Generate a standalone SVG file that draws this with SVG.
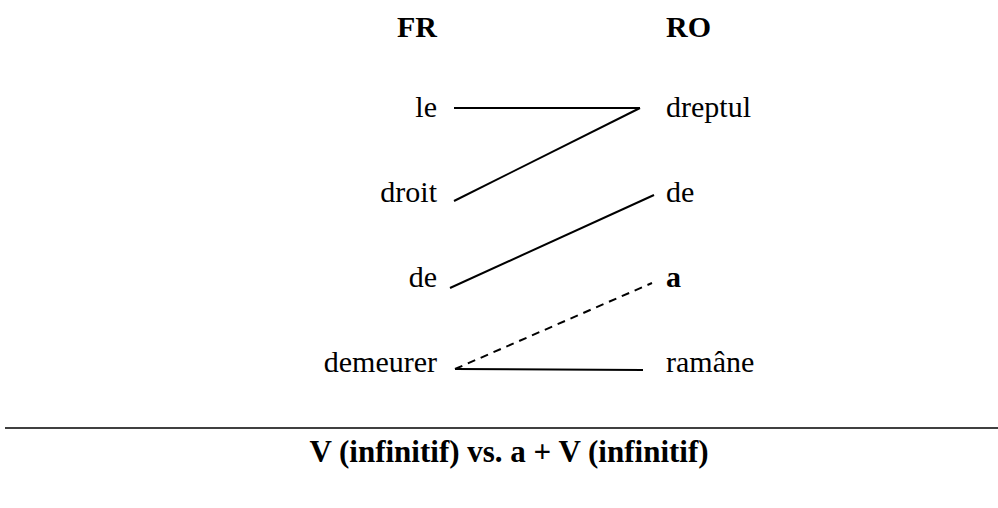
<svg xmlns="http://www.w3.org/2000/svg" width="998" height="508" viewBox="0 0 998 508">
<style>
text{font-family:"Liberation Serif","Times New Roman",serif;font-size:30px;fill:#000}
.b{font-weight:bold}
.l{text-anchor:end}
.r{text-anchor:start}
.t{font-size:31px;text-anchor:middle}
.c{stroke:#000;stroke-width:2;fill:none}
.d{stroke-dasharray:8,6}
</style>
<rect width="998" height="508" fill="#fff"/>
<g id="hdr-fr"><text class="b l" x="437" y="37">FR</text></g>
<g id="hdr-ro"><text class="b r" x="666" y="37">RO</text></g>
<g id="fr-le"><text class="l" x="437" y="117">le</text></g>
<g id="fr-droit"><text class="l" x="437" y="202">droit</text></g>
<g id="fr-de"><text class="l" x="437" y="287">de</text></g>
<g id="fr-demeurer"><text class="l" x="437" y="372">demeurer</text></g>
<g id="ro-dreptul"><text class="r" x="666" y="117">dreptul</text></g>
<g id="ro-de"><text class="r" x="666" y="202">de</text></g>
<g id="ro-a"><text class="b r" x="666" y="287">a</text></g>
<g id="ro-ramane"><text class="r" x="666" y="372">ramâne</text></g>
<g id="connectors">
<line class="c" x1="454" y1="108" x2="640" y2="108"/>
<line class="c" x1="454" y1="201" x2="640" y2="108"/>
<line class="c" x1="450" y1="288" x2="654" y2="195"/>
<line class="c d" x1="455" y1="369" x2="652" y2="283"/>
<line class="c" x1="455" y1="369" x2="643" y2="370"/>
</g>
<g id="footer">
<line x1="5" y1="428" x2="998" y2="428" stroke="#000" stroke-width="1.5"/>
<text class="b t" x="509" y="462">V (infinitif) vs. a + V (infinitif)</text>
</g>
</svg>
